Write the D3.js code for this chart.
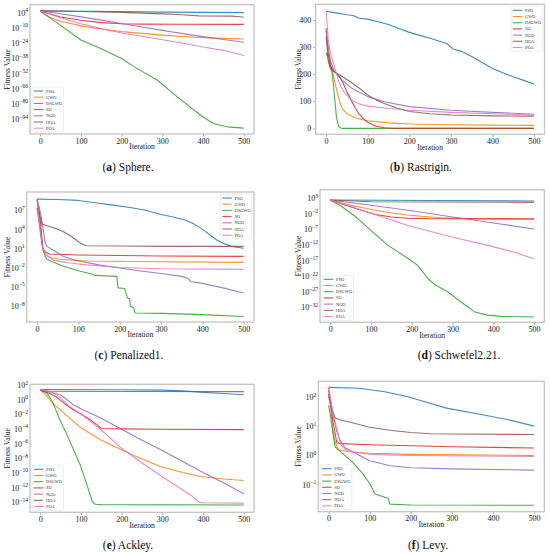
<!DOCTYPE html>
<html>
<head>
<meta charset="utf-8">
<script src="https://cdn.jsdelivr.net/npm/d3@7"></script>
<style>
  body { margin: 0; background: #fff; }
  svg { display: block; font-family: "Liberation Serif", "Times New Roman", serif; }
</style>
</head>
<body>
<svg id="chart" width="550" height="554"></svg>
<script>
// Convergence curves, six benchmark functions
const algos = ["PSO", "GWO", "DSGWO", "SO", "NGO", "HOA", "POA"];
const colors = ["#1f77b4", "#ff7f0e", "#2ca02c", "#d62728", "#9467bd", "#8c564b", "#e377c2"];
const iterTicks = [0, 100, 200, 300, 400, 500];

// log panels store [iteration, log10(fitness)], Rastrigin stores [iteration, fitness]
const sphere = [
    [[0, 5.3], [100, 5.0], [200, 4.6], [300, 4.2], [400, 3.9], [500, 3.7]],
    [[0, 5.3], [10, 2.5], [20, 0], [50, -4.3], [100, -8.5], [150, -11.4], [200, -13.8], [250, -15.4], [300, -17], [350, -18.3], [400, -19.3], [450, -20], [500, -20.6]],
    [[0, 5.3], [50, -8], [100, -21.5], [150, -29.5], [200, -38.5], [230, -46], [287, -58.3], [336, -73.6], [393, -90.5], [426, -98.6], [460, -101.4], [500, -102.6]],
    [[0, 5.3], [25, 2.3], [50, -0.3], [100, -3.3], [150, -5.5], [200, -6.6], [250, -6.9], [350, -7.0], [500, -7.1]],
    [[0, 5.3], [50, 2.6], [100, -0.2], [150, -3.2], [200, -6.3], [250, -9.6], [300, -12.6], [350, -15.6], [400, -18.4], [450, -21], [500, -23.6]],
    [[0, 5.3], [100, 4.7], [200, 3.9], [300, 2.6], [350, 1.8], [390, 0.7], [470, 0.5], [490, -0.1], [500, -0.6]],
    [[0, 5.3], [50, -1], [100, -6.5], [150, -11], [200, -15], [250, -18], [300, -21.3], [350, -24.5], [400, -28], [450, -31], [500, -35.7]]
];
const rastrigin = [
    [[0, 432], [20, 427], [50, 419], [65, 416], [80, 406], [100, 403], [125, 393], [150, 383], [175, 368], [200, 354], [225, 343], [250, 332], [290, 313], [305, 293], [325, 284], [350, 265], [375, 243], [400, 221], [425, 205], [450, 190], [475, 177], [500, 163]],
    [[0, 280], [8, 240], [16, 205], [24, 150], [32, 100], [40, 70], [50, 55], [70, 38], [100, 28], [150, 20], [200, 16], [300, 13], [400, 12], [500, 11]],
    [[0, 275], [8, 262], [15, 200], [20, 120], [25, 40], [30, 8], [35, 1], [40, 0], [500, 0]],
    [[0, 370], [5, 280], [10, 230], [20, 210], [30, 195], [40, 170], [50, 135], [60, 105], [70, 75], [80, 52], [90, 35], [100, 22], [120, 8], [140, 2], [160, 0.5], [500, 0.3]],
    [[0, 360], [10, 250], [20, 210], [40, 175], [60, 150], [80, 133], [100, 117], [140, 98], [200, 80], [300, 67], [400, 59], [500, 52]],
    [[0, 340], [5, 250], [10, 220], [20, 208], [40, 190], [60, 170], [80, 148], [100, 123], [120, 105], [140, 92], [170, 75], [200, 62], [250, 54], [300, 49], [400, 46], [500, 45]],
    [[0, 432], [5, 330], [10, 280], [20, 228], [30, 175], [40, 140], [60, 105], [80, 90], [100, 82], [150, 73], [200, 67], [300, 59], [400, 54], [500, 49]]
];
const penalized = [
    [[0, 8.7], [50, 8.65], [100, 8.5], [145, 8.1], [180, 7.8], [225, 7.4], [260, 7.0], [300, 6.3], [330, 5.9], [360, 5.4], [380, 4.8], [400, 4.0], [420, 3.0], [435, 2.3], [450, 1.8], [470, 1.3], [500, 1.0]],
    [[0, 8.7], [5, 6], [12, 2], [16, 0.5], [25, -0.2], [40, -0.6], [70, -0.8], [120, -1.0], [300, -1.1], [500, -1.2]],
    [[0, 7.3], [5, 5], [10, 2.5], [14, 0.8], [20, -0.3], [25, -0.75], [40, -1.2], [64, -1.8], [105, -2.6], [130, -3.0], [141, -3.25], [193, -3.4], [196, -5.2], [212, -5.3], [215, -6.0], [219, -6.8], [224, -6.9], [226, -8.1], [234, -8.3], [237, -9.15], [300, -9.2], [400, -9.4], [500, -9.7]],
    [[0, 8.7], [5, 7], [10, 4], [14, 1.0], [20, 0.4], [30, 0.1], [100, -0.05], [300, -0.2], [500, -0.26]],
    [[0, 8.7], [5, 7.5], [10, 6], [16, 3.5], [20, 1.8], [24, 1.3], [40, 0.7], [64, -0.3], [100, -1.0], [150, -1.6], [200, -2.1], [250, -2.55], [300, -2.95], [350, -3.4], [365, -3.7], [372, -4.2], [400, -4.5], [450, -5.2], [500, -6.0]],
    [[0, 7.3], [5, 6.5], [12, 4.8], [30, 4.4], [50, 4.0], [64, 3.6], [80, 3.0], [95, 2.3], [105, 1.8], [120, 1.4], [200, 1.35], [300, 1.3], [500, 1.3]],
    [[0, 8.7], [5, 5], [14, 1], [20, 0], [40, -0.9], [80, -1.3], [120, -1.6], [200, -2.0], [300, -2.2], [500, -2.3]]
];
const schwefel = [
    [[0, 2.25], [250, 2.1], [500, 1.93]],
    [[0, 2.25], [50, 0.6], [108, -0.95], [150, -1.9], [190, -2.55], [230, -3.0], [271, -3.4], [350, -3.7], [500, -3.8]],
    [[0, 2.25], [26, 0.4], [67, -3.6], [108, -8.4], [141, -12.2], [190, -16.4], [214, -18.6], [239, -22.8], [255, -24.7], [288, -27.1], [320, -30.3], [353, -33.5], [386, -34.6], [420, -35], [500, -35.2]],
    [[0, 2.25], [40, 0.5], [108, -2.3], [150, -3.2], [190, -3.6], [250, -3.75], [500, -3.8]],
    [[0, 2.25], [100, 0.6], [200, -1.2], [300, -3.2], [400, -5.1], [500, -7.0]],
    [[0, 2.25], [100, 1.7], [500, 1.5]],
    [[0, 2.25], [50, 0.2], [108, -2.3], [190, -5.9], [296, -9.5], [394, -12.5], [450, -14.4], [500, -16.6]]
];
const ackley = [
    [[0, 1.32], [200, 1.3], [300, 1.25], [350, 1.15], [400, 0.95], [450, 0.8], [500, 0.62]],
    [[0, 1.32], [10, 0.8], [26, -0.2], [42, -1.1], [67, -2.3], [100, -3.9], [150, -5.6], [230, -7.7], [295, -9.2], [350, -10.0], [393, -10.55], [450, -10.9], [500, -11.1]],
    [[0, 1.32], [15, 0.9], [25, 0.2], [35, -1.0], [50, -3.0], [67, -5.0], [100, -9.2], [116, -11.9], [128, -14.0], [135, -14.35], [150, -14.4], [500, -14.45]],
    [[0, 1.32], [20, 0.9], [40, 0.3], [60, -0.6], [80, -1.4], [100, -2.0], [120, -2.7], [140, -3.5], [150, -4.0], [200, -4.05], [300, -4.1], [500, -4.15]],
    [[0, 1.32], [25, 1.0], [50, 0.6], [65, 0.0], [80, -0.7], [100, -1.3], [120, -1.8], [150, -2.6], [200, -4.1], [250, -5.6], [300, -7.0], [350, -8.5], [400, -10.0], [450, -11.4], [500, -12.9]],
    [[0, 1.32], [5, 1.1], [500, 1.05]],
    [[0, 1.32], [30, 1.0], [50, 0.2], [70, -0.9], [100, -2.0], [150, -4.2], [200, -6.7], [250, -8.7], [300, -10.6], [350, -12.4], [375, -13.3], [390, -14.05], [400, -14.15], [500, -14.2]]
];
const levy = [
    [[0, 2.32], [73, 2.29], [137, 2.17], [193, 2.0], [234, 1.83], [290, 1.6], [355, 1.43], [435, 1.22], [500, 0.99]],
    [[0, 2.2], [5, 1.6], [10, 0.9], [16, 0.45], [24, 0.18], [50, 0.11], [100, 0.06], [200, 0.02], [500, -0.02]],
    [[0, 1.7], [5, 1.3], [12, 0.6], [16, 0.28], [32, 0.08], [56, -0.22], [80, -0.58], [100, -0.98], [113, -1.34], [145, -1.49], [149, -1.69], [200, -1.72], [500, -1.73]],
    [[0, 2.1], [5, 1.8], [10, 1.2], [20, 0.42], [30, 0.39], [100, 0.35], [300, 0.28], [500, 0.24]],
    [[0, 2.0], [10, 1.4], [20, 0.8], [28, 0.5], [40, 0.25], [60, 0.1], [100, -0.2], [150, -0.37], [200, -0.44], [300, -0.48], [500, -0.52]],
    [[0, 2.3], [8, 1.6], [16, 1.27], [30, 1.2], [60, 1.1], [100, 0.95], [150, 0.85], [200, 0.77], [250, 0.73], [300, 0.72], [500, 0.70]],
    [[0, 2.3], [10, 1.5], [20, 0.9], [30, 0.35], [40, 0.2], [60, 0.1], [100, 0.02], [200, -0.02], [500, -0.05]]
];

// y tick labels (exponents for log panels)
const sphereTicks = [4, -10, -24, -38, -52, -66, -80, -94];
const rastriginTicks = [0, 100, 200, 300, 400];
const penalizedTicks = [7, 4, 1, -2, -5, -8];
const schwefelTicks = [3, -2, -7, -12, -17, -22, -27, -32];
const ackleyTicks = [2, 0, -2, -4, -6, -8, -10, -12, -14];
const levyTicks = [2, 1, 0, -1];

// layout: frame box [x0,y0,x1,y1], y limits, label / caption / legend placement
const panels = [
    { tag: "a", name: "Sphere.", curves: sphere, log: true, ticks: sphereTicks, ylim: [11, -108], box: [30, 4.7, 254, 134], labX: 7.5, cap: 128, legend: "ll" },
    { tag: "b", name: "Rastrigin.", curves: rastrigin, log: false, ticks: rastriginTicks, ylim: [457.6, -22], box: [315.7, 4.3, 544.5, 134.3], labX: 298.5, cap: 421, legend: "ur" },
    { tag: "c", name: "Penalized1.", curves: penalized, log: true, ticks: penalizedTicks, ylim: [9.82, -10.55], box: [26.7, 192, 254, 322], labX: 7.5, cap: 129, legend: "ur" },
    { tag: "d", name: "Schwefel2.21.", curves: schwefel, log: true, ticks: schwefelTicks, ylim: [5.56, -36.9], box: [320, 189.7, 544.3, 322.3], labX: 298.5, cap: 459, legend: "ll" },
    { tag: "e", name: "Ackley.", curves: ackley, log: true, ticks: ackleyTicks, ylim: [2.05, -15.45], box: [30, 384.3, 254, 512.3], labX: 7.5, cap: 128, legend: "ll" },
    { tag: "f", name: "Levy.", curves: levy, log: true, ticks: levyTicks, ylim: [2.53, -1.95], box: [318.3, 381.3, 544.3, 511.7], labX: 298.5, cap: 428, legend: "ll" }
];

const svg = d3.select("#chart");
const defs = svg.append("defs");

panels.forEach((p, pi) => {
    const [x0, y0, x1, y1] = p.box;
    const x = d3.scaleLinear().domain([-25, 525]).range([x0, x1]);
    const val = p.log ? e => Math.pow(10, e) : v => v;
    const y = (p.log ? d3.scaleLog() : d3.scaleLinear()).domain(p.ylim.map(val)).range([y0, y1]);
    const g = svg.append("g");

    defs.append("clipPath").attr("id", "clip" + pi)
        .append("rect").attr("x", x0).attr("y", y0).attr("width", x1 - x0).attr("height", y1 - y0);

    // x axis
    const xa = g.append("g").attr("transform", `translate(0,${y1})`)
        .call(d3.axisBottom(x).tickValues(iterTicks).tickSize(2.5).tickPadding(1.5));
    xa.attr("font-family", null).attr("font-size", 8);
    xa.select(".domain").remove();
    xa.selectAll("line").attr("stroke", "#aaa");
    xa.selectAll("text").attr("fill", "#222");

    // y axis
    if (p.log) {
        const yl = g.append("g").attr("font-size", 8).attr("fill", "#222");
        p.ticks.forEach(t => {
            const tx = yl.append("text").attr("x", x0 - 2).attr("y", y(val(t)) + 3.5).attr("text-anchor", "end");
            tx.append("tspan").text("10");
            tx.append("tspan").attr("dy", -3.6).attr("font-size", 5.6).text(String(t).replace("-", "\u2212"));
        });
    } else {
        const ya = g.append("g").attr("transform", `translate(${x0},0)`)
            .call(d3.axisLeft(y).tickValues(p.ticks).tickSize(2.5).tickPadding(2));
        ya.attr("font-family", null).attr("font-size", 8);
        ya.select(".domain").remove();
        ya.selectAll("line").attr("stroke", "#aaa");
        ya.selectAll("text").attr("fill", "#222");
    }

    // curves
    const line = d3.line().x(d => x(d[0])).y(d => y(val(d[1])));
    g.append("g").attr("clip-path", `url(#clip${pi})`)
        .selectAll("path")
        .data(p.curves)
        .join("path")
        .attr("d", line)
        .attr("fill", "none")
        .attr("stroke", (d, i) => colors[i])
        .attr("stroke-opacity", 0.85)
        .attr("stroke-width", 1.1)
        .attr("stroke-linejoin", "round");

    // frame
    g.append("rect").attr("x", x0).attr("y", y0).attr("width", x1 - x0).attr("height", y1 - y0)
        .attr("fill", "none").attr("stroke", "#c4c4c4").attr("stroke-width", 1.3);

    // axis titles
    g.append("text").attr("x", (x0 + x1) / 2).attr("y", y1 + 15.2).attr("text-anchor", "middle")
        .attr("font-size", 7.6).attr("fill", "#222").text("Iteration");
    g.append("text").attr("transform", `translate(${p.labX + 2.6},${(y0 + y1) / 2}) rotate(-90)`)
        .attr("text-anchor", "middle").attr("font-size", 7.6).attr("fill", "#222").text("Fitness Value");

    // legend
    const lw = 31.5, lh = 45;
    const lx = p.legend === "ur" ? x1 - 2 - lw : x0 + 2;
    const ly = p.legend === "ur" ? y0 + 2 : y1 - 2 - lh;
    const lg = g.append("g").attr("transform", `translate(${lx},${ly})`);
    lg.append("rect").attr("width", lw).attr("height", lh).attr("rx", 1.2)
        .attr("fill", "#fff").attr("fill-opacity", 0.85).attr("stroke", "#ddd").attr("stroke-width", 0.5);
    const row = lg.selectAll("g.row").data(algos).join("g").attr("class", "row")
        .attr("transform", (d, i) => `translate(0,${4 + i * 6.2})`);
    row.append("line").attr("x1", 1.8).attr("x2", 11.2)
        .attr("stroke", (d, i) => colors[i]).attr("stroke-opacity", 0.85).attr("stroke-width", 1.1);
    row.append("text").attr("x", 14).attr("y", 1.5).attr("font-size", 4.4).attr("fill", "#333").text(d => d);

    // caption
    const capY = y1 + 37;
    const cap = g.append("text").attr("x", p.cap).attr("y", capY).attr("text-anchor", "middle")
        .attr("font-size", 11.5).attr("fill", "#111");
    cap.append("tspan").text("(");
    cap.append("tspan").attr("font-weight", "bold").text(p.tag);
    cap.append("tspan").text(") " + p.name);
});
</script>
</body>
</html>
